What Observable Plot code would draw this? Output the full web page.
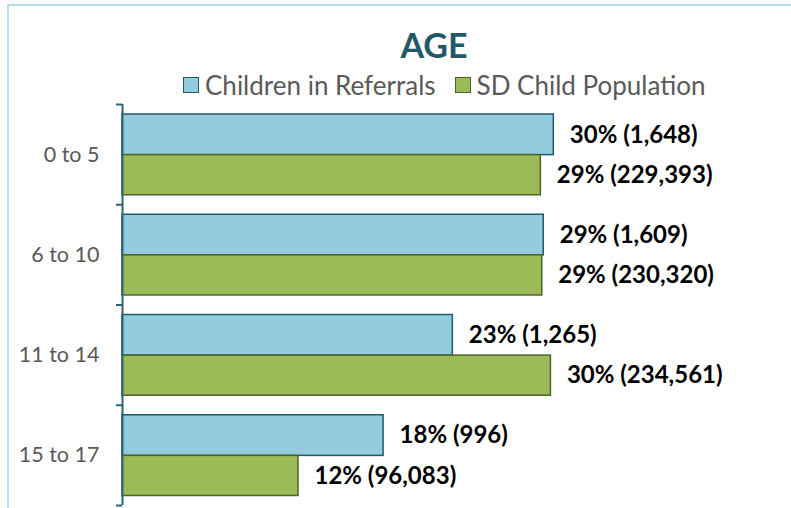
<!DOCTYPE html>
<html>
<head>
<meta charset="utf-8">
<script src="https://cdn.jsdelivr.net/npm/d3@7"></script>
<script src="https://cdn.jsdelivr.net/npm/@observablehq/plot@0.6"></script>
<style>
  html, body { margin: 0; padding: 0; background: #fff; }
  #wrap { position: relative; width: 791px; height: 508px; overflow: hidden; font-family: Lato, "Open Sans", sans-serif; }
  #borderTop { position: absolute; left: 8px; top: 4px; width: 783px; height: 2px; background: #b7dde8; }
  #borderLeft { position: absolute; left: 7px; top: 4px; width: 2px; height: 504px; background: #b7dde8; }
  #title { position: absolute; top: 25px; left: 0; width: 868px; text-align: center; font-weight: bold; font-size: 34px; color: #215968; line-height: 40px; }
  #legend { position: absolute; top: 69px; left: 183px; display: flex; align-items: center; font-size: 26px; color: #595959; line-height: 32px; white-space: nowrap; }
  .sw { display: inline-block; width: 14px; height: 14px; border: 1.5px solid; margin-right: 6px; }
  .item { display: flex; align-items: center; margin-right: 19px; }
  #chart { position: absolute; left: 0; top: 98px; }
</style>
</head>
<body>
<div id="wrap">
  <div id="borderTop"></div>
  <div id="borderLeft"></div>
  <div id="title">AGE</div>
  <div id="legend"></div>
  <div id="chart"></div>
</div>
<script>
const categories = ["0 to 5", "6 to 10", "11 to 14", "15 to 17"];
const seriesNames = ["Children in Referrals", "SD Child Population"];
const referralPct = [29.9, 29.2, 22.9, 18.1];
const referralLabels = ["30% (1,648)", "29% (1,609)", "23% (1,265)", "18% (996)"];
const populationPct = [29.0, 29.1, 29.7, 12.2];
const populationLabels = ["29% (229,393)", "29% (230,320)", "30% (234,561)", "12% (96,083)"];

const fills = ["#93cddd", "#9bbb59"];
const strokes = ["#215968", "#4f6228"];

// legend
const legend = document.getElementById("legend");
seriesNames.forEach((name, i) => {
  const item = document.createElement("span");
  item.className = "item";
  const sw = document.createElement("span");
  sw.className = "sw";
  sw.style.background = fills[i];
  sw.style.borderColor = strokes[i];
  item.appendChild(sw);
  item.appendChild(document.createTextNode(name));
  legend.appendChild(item);
});

// table
const rows = [];
categories.forEach((c, i) => {
  rows.push({cat: c, idx: i, series: 0, value: referralPct[i], label: referralLabels[i]});
  rows.push({cat: c, idx: i, series: 1, value: populationPct[i], label: populationLabels[i]});
});
const y1 = d => d.idx + (d.series === 0 ? 0.1 : 0.505);
const y2 = d => d.idx + (d.series === 0 ? 0.505 : 0.905);
const ym = d => (y1(d) + y2(d)) / 2;

const axisColor = "#2a6475";

const chart = Plot.plot({
  width: 791,
  height: 410,
  marginLeft: 122,
  marginRight: 92,
  marginTop: 6,
  marginBottom: 3,
  x: {domain: [0, 40], axis: null},
  y: {domain: [0, categories.length], reverse: true, axis: null},
  style: {fontFamily: "Lato, 'Open Sans', sans-serif", background: "transparent"},
  marks: [
    Plot.rect(rows, {
      x1: 0, x2: "value", y1, y2,
      fill: d => fills[d.series], stroke: d => strokes[d.series], strokeWidth: 1.5
    }),
    Plot.text(rows, {
      x: "value", y: ym, text: "label", textAnchor: "start", dx: 16,
      fontWeight: "bold", fontSize: 24, fill: "#000"
    }),
    Plot.ruleX([0], {y1: 0, y2: categories.length, stroke: axisColor, strokeWidth: 2}),
    Plot.axisY({ticks: d3.range(categories.length + 1), tickSize: 6, tickFormat: () => "", stroke: axisColor, strokeWidth: 2}),
    Plot.axisY({ticks: categories.map((c, i) => i + 0.5), tickSize: 0, tickPadding: 23,
      tickFormat: v => categories[Math.floor(v)], fontSize: 21.5, fill: "#595959"})
  ]
});
document.getElementById("chart").appendChild(chart);
</script>
</body>
</html>
